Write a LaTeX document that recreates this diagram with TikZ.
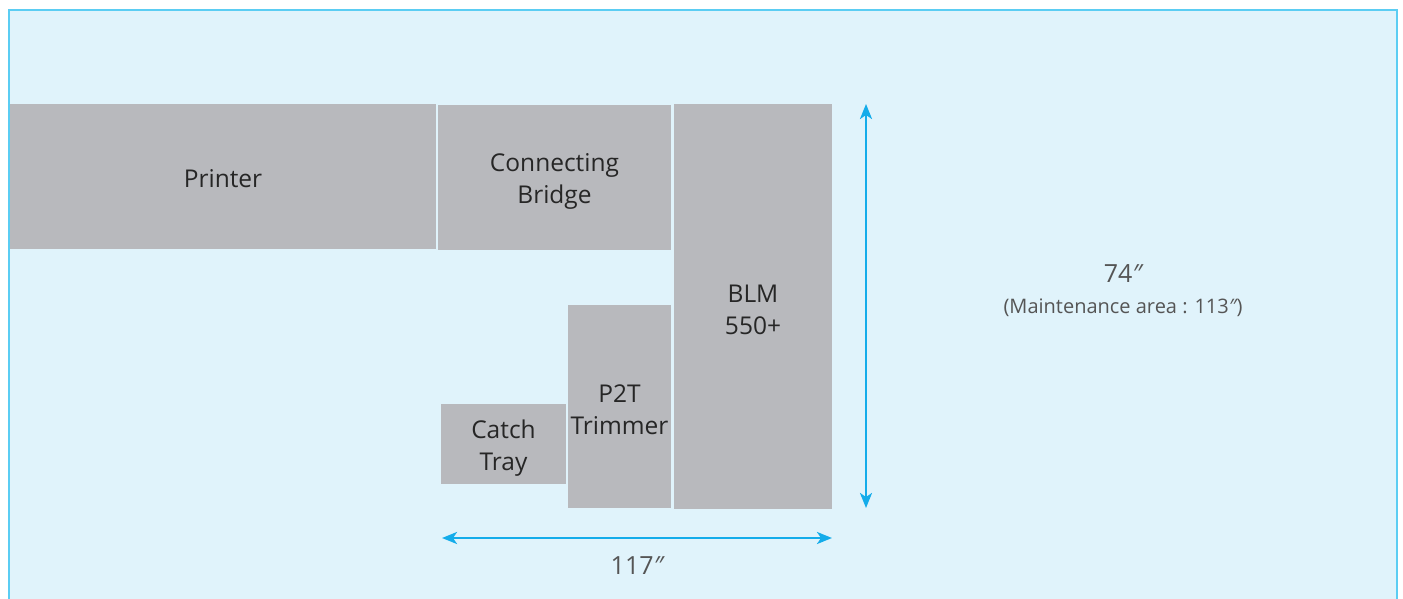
\documentclass[tikz,border=0pt]{standalone}
\usepackage{fontspec}
\setmainfont{Open Sans}
\usetikzlibrary{arrows.meta}
\definecolor{bgblue}{HTML}{E0F3FB}
\definecolor{frameblue}{HTML}{5BCDF3}
\definecolor{boxgray}{HTML}{B8B9BD}
\definecolor{arrowblue}{HTML}{14ACEA}
\definecolor{labeltext}{HTML}{262626}
\definecolor{dimtext}{HTML}{555555}
\newcommand{\inch}{{\itshape ″}}
\tikzset{
  unit/.style={fill=boxgray, draw=none, inner sep=0pt},
  unittext/.style={text=labeltext, inner sep=0pt, font=\fontsize{24.5}{32}\selectfont, align=center},
  dimarrow/.style={draw=arrowblue, line width=2.4pt, {Stealth[length=15pt,width=12pt,inset=4pt]}-{Stealth[length=15pt,width=12pt,inset=4pt]}},
  dimlabel/.style={text=dimtext, inner sep=0pt}
}
\begin{document}
\begin{tikzpicture}[x=1pt,y=-1pt]
\useasboundingbox (0,0) rectangle (1403,599);
\fill[white] (0,0) rectangle (1403,599);
\fill[bgblue] (9,10) rectangle (1397,599);
\draw[frameblue, line width=2pt] (9,600) -- (9,10) -- (1397,10) -- (1397,600);
\node[unit, minimum width=426pt, minimum height=145pt] (printer) at (223,176.5) {};
\node[unittext] (printertext) at (223,178.5) {Printer};
\node[unit, minimum width=233pt, minimum height=145pt] (bridge) at (554.5,177.5) {};
\node[unittext] (bridgetext) at (554.5,181.5) {Connecting\\Bridge};
\node[unit, minimum width=158pt, minimum height=405pt] (blm) at (753,306.5) {};
\node[unittext] (blmtext) at (753,310) {BLM\\550+};
\node[unit, minimum width=103pt, minimum height=203pt] (p2t) at (619.5,406.5) {};
\node[unittext] (p2ttext) at (619.5,409.5) {P2T\\Trimmer};
\node[unit, minimum width=125pt, minimum height=80pt] (catch) at (503.5,444) {};
\node[unittext] (catchtext) at (503.5,448.5) {Catch\\Tray};
\coordinate (vt) at (866,104);
\coordinate (vb) at (866,508);
\coordinate (hl) at (442,538);
\coordinate (hr) at (832,538);
\draw[dimarrow] (vt) -- (vb);
\draw[dimarrow] (hl) -- (hr);
\node[dimlabel, font=\fontsize{25}{28}\selectfont] (len) at (637,566) {117\inch};
\node[dimlabel, font=\fontsize{25}{28}\selectfont] (wid) at (1123,274) {74\inch};
\node[dimlabel, font=\fontsize{20}{22}\selectfont] (maint) at (1123,308) {(Maintenance area : 113\inch)};
\end{tikzpicture}
\end{document}
